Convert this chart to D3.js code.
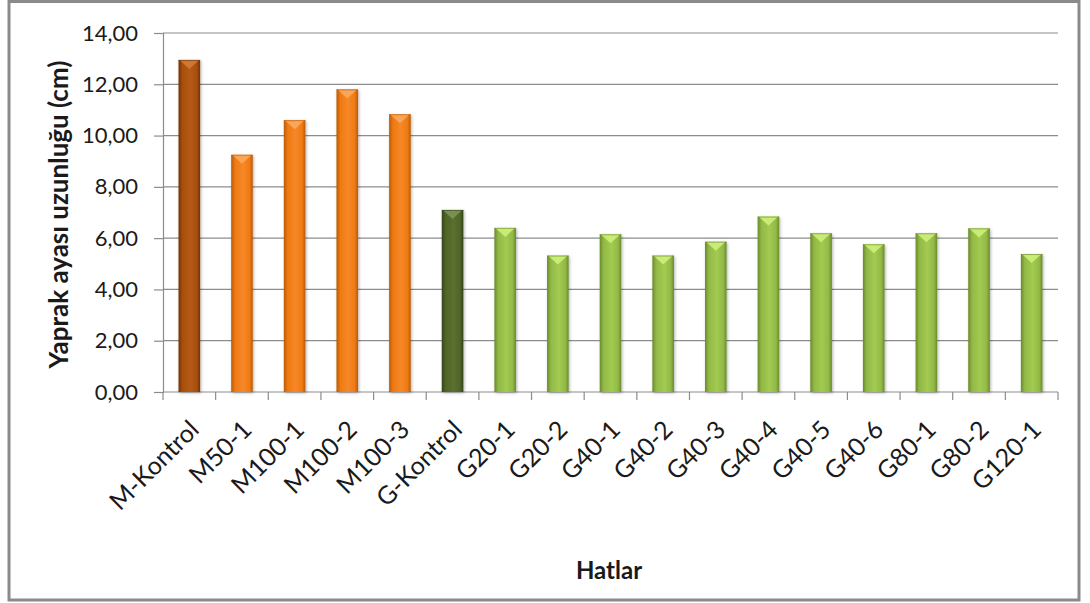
<!DOCTYPE html>
<html>
<head>
<meta charset="utf-8">
<script src="https://cdn.jsdelivr.net/npm/d3@7"></script>
<style>
  body { margin: 0; background: #fff; }
  text { font-family: Lato, "Open Sans", sans-serif; fill: #1a1a1a; }
</style>
</head>
<body>
<svg width="1090" height="603"></svg>
<script>
// Data
const categories = ["M-Kontrol", "M50-1", "M100-1", "M100-2", "M100-3", "G-Kontrol",
    "G20-1", "G20-2", "G40-1", "G40-2", "G40-3", "G40-4", "G40-5", "G40-6",
    "G80-1", "G80-2", "G120-1"];
const values = [12.95, 9.25, 10.6, 11.8, 10.83, 7.1,
    6.4, 5.32, 6.15, 5.32, 5.86, 6.84, 6.19, 5.76,
    6.19, 6.38, 5.38];
const yTicks = [0, 2, 4, 6, 8, 10, 12, 14];

const margin = {top: 33, right: 32, bottom: 211, left: 163},
      width = 1090 - margin.left - margin.right,
      height = 603 - margin.top - margin.bottom;

const svg = d3.select("svg");

// outer frame
svg.append("rect")
    .attr("x", 9).attr("y", 1.5)
    .attr("width", 1070).attr("height", 598.5)
    .attr("fill", "#fff")
    .attr("stroke", "#8a8a8a")
    .attr("stroke-width", 3);

// colour sets: [edge, body, highlight, bevel]
const palettes = {
    mk: ["#6e3306", "#a84f0c", "#b45a14", "#d07a3a"],
    m:  ["#b85a08", "#f07a10", "#f5882a", "#f9aa5e"],
    gk: ["#34431a", "#506428", "#5a6f2e", "#7d9455"],
    g:  ["#6a8a2c", "#92b945", "#a2cb52", "#cdf07a"]
};
function groupOf(name) {
    if (name === "M-Kontrol") return "mk";
    if (name === "G-Kontrol") return "gk";
    return name[0] === "M" ? "m" : "g";
}

const defs = svg.append("defs");
Object.entries(palettes).forEach(([k, c]) => {
    const gr = defs.append("linearGradient")
        .attr("id", "grad-" + k)
        .attr("x1", "0%").attr("x2", "100%").attr("y1", "0%").attr("y2", "0%");
    gr.append("stop").attr("offset", "0%").attr("stop-color", c[0]);
    gr.append("stop").attr("offset", "18%").attr("stop-color", c[1]);
    gr.append("stop").attr("offset", "55%").attr("stop-color", c[2]);
    gr.append("stop").attr("offset", "85%").attr("stop-color", c[1]);
    gr.append("stop").attr("offset", "100%").attr("stop-color", c[0]);
});
const shadow = defs.append("filter").attr("id", "shadow")
    .attr("x", "-30%").attr("y", "-10%").attr("width", "160%").attr("height", "120%");
shadow.append("feDropShadow")
    .attr("dx", 1).attr("dy", 1).attr("stdDeviation", 1.5)
    .attr("flood-color", "#000").attr("flood-opacity", 0.3);

const g = svg.append("g")
    .attr("transform", `translate(${margin.left},${margin.top})`);

// Scales
const x = d3.scaleBand()
    .domain(categories)
    .range([0, width])
    .paddingInner(0.59)
    .paddingOuter(0.295);

const y = d3.scaleLinear()
    .domain([0, 14])
    .range([height, 0]);

// gridlines
g.append("g")
    .selectAll("line")
    .data(yTicks.filter(d => d > 0))
    .join("line")
    .attr("x1", 0).attr("x2", width)
    .attr("y1", d => y(d)).attr("y2", d => y(d))
    .attr("stroke", "#8c8c8c")
    .attr("stroke-width", 1.2);

// Y axis
const yAxis = g.append("g")
    .call(d3.axisLeft(y).tickValues(yTicks).tickSize(9).tickPadding(16)
        .tickFormat(d => d3.format(".2f")(d).replace(".", ",")));
yAxis.selectAll("line, path").attr("stroke", "#8c8c8c").attr("stroke-width", 1.2);
yAxis.selectAll("text")
    .style("font-size", "22px")
    .style("font-family", "Lato, sans-serif")
    .attr("fill", "#1a1a1a");

// X axis with ticks at category boundaries
const step = x.step();
const xAxis = g.append("g").attr("transform", `translate(0,${height})`);
xAxis.append("line")
    .attr("x1", 0).attr("x2", width)
    .attr("stroke", "#8c8c8c").attr("stroke-width", 1.2);
xAxis.selectAll("line.tick")
    .data(d3.range(categories.length + 1))
    .join("line")
    .attr("class", "tick")
    .attr("x1", i => i * step).attr("x2", i => i * step)
    .attr("y1", 0).attr("y2", 8)
    .attr("stroke", "#8c8c8c").attr("stroke-width", 1.2);
xAxis.selectAll("text")
    .data(categories)
    .join("text")
    .attr("transform", d => `translate(${x(d) + x.bandwidth() / 2 + 5},${33}) rotate(-45)`)
    .attr("text-anchor", "end")
    .attr("dy", "0.35em")
    .style("font-size", "25px")
    .text(d => d);

// Bars
const bars = g.append("g").selectAll("g.bar")
    .data(categories.map((c, i) => ({name: c, value: values[i]})))
    .join("g")
    .attr("class", "bar");

bars.append("rect")
    .attr("x", d => x(d.name))
    .attr("y", d => y(d.value))
    .attr("width", x.bandwidth())
    .attr("height", d => height - y(d.value))
    .attr("fill", d => `url(#grad-${groupOf(d.name)})`)
    .attr("filter", "url(#shadow)");

// bevel on the top
bars.append("path")
    .attr("d", d => {
        const x0 = x(d.name), w = x.bandwidth(), t = y(d.value);
        return `M${x0 + 1},${t} L${x0 + w - 1},${t} L${x0 + w / 2},${t + 9} Z`;
    })
    .attr("fill", d => palettes[groupOf(d.name)][3])
    .attr("opacity", 0.9);
bars.append("line")
    .attr("x1", d => x(d.name)).attr("x2", d => x(d.name) + x.bandwidth())
    .attr("y1", d => y(d.value) + 0.5).attr("y2", d => y(d.value) + 0.5)
    .attr("stroke", d => palettes[groupOf(d.name)][0])
    .attr("stroke-width", 1)
    .attr("opacity", 0.6);

// Axis titles
svg.append("text")
    .attr("transform", `translate(68,${margin.top + height / 2 + 2}) rotate(-90)`)
    .attr("text-anchor", "middle")
    .style("font-size", "26px")
    .style("font-weight", "bold")
    .text("Yaprak ayası uzunluğu (cm)");

svg.append("text")
    .attr("x", 609)
    .attr("y", 579)
    .attr("text-anchor", "middle")
    .style("font-size", "24px")
    .style("font-weight", "bold")
    .text("Hatlar");
</script>
</body>
</html>
